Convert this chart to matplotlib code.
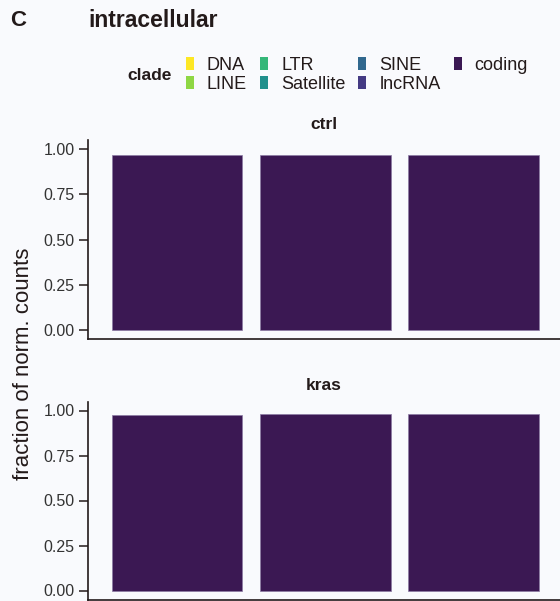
import matplotlib.pyplot as plt
from matplotlib.patches import Patch

plt.rcParams['font.family'] = ['Liberation Sans', 'DejaVu Sans']

# stacked fractions per sample, per condition
clades = ['DNA', 'LINE', 'LTR', 'Satellite', 'SINE', 'lncRNA', 'coding']
clade_colors = ['#fde725', '#8fd744', '#35b779', '#21908c', '#31688e', '#443a83', '#3b1853']
samples = ['s1', 's2', 's3']
conditions = ['ctrl', 'kras']
fractions = {
    'ctrl': {'DNA': [0, 0, 0], 'LINE': [0, 0, 0], 'LTR': [0, 0, 0], 'Satellite': [0, 0, 0],
             'SINE': [0, 0, 0], 'lncRNA': [0, 0, 0], 'coding': [0.965, 0.965, 0.965]},
    'kras': {'DNA': [0, 0, 0], 'LINE': [0, 0, 0], 'LTR': [0, 0, 0], 'Satellite': [0, 0, 0],
             'SINE': [0, 0, 0], 'lncRNA': [0, 0, 0], 'coding': [0.975, 0.978, 0.978]},
}
yticks = [0.0, 0.25, 0.5, 0.75, 1.0]

bg = '#f9fafd'
ink = '#231a1a'
W, H = 560, 601
fig = plt.figure(figsize=(W / 100, H / 100), dpi=100, facecolor=bg)

# panel boxes in pixels: (left, top, right, bottom)
panels = {'ctrl': (88, 140, 560, 339), 'kras': (88, 401.5, 560, 599.5)}

for cond in conditions:
    l, t, r, b = panels[cond]
    ax = fig.add_axes([l / W, 1 - b / H, (r - l) / W, (b - t) / H], facecolor=bg)
    x = list(range(1, len(samples) + 1))
    bottom = [0.0] * len(samples)
    for clade, col in zip(clades, clade_colors):
        vals = fractions[cond][clade]
        for i, v in enumerate(vals):
            if v > 0:
                ax.bar(x[i], v, bottom=bottom[i], width=0.88, color=col,
                       edgecolor='#8b7aa3', linewidth=0.5)
        bottom = [bo + v for bo, v in zip(bottom, vals)]
    ax.set_xlim(0.4, 0.4 + (r - l) / 148.3)
    ax.set_ylim(-0.05, 1.05)
    ax.set_xticks([])
    ax.set_yticks(yticks)
    ax.set_yticklabels(['%.2f' % v for v in yticks], fontsize=11.5, color='#333333')
    ax.tick_params(axis='y', length=6.5, width=1.1, color=ink, pad=3)
    for s in ['top', 'right']:
        ax.spines[s].set_visible(False)
    for s in ['left', 'bottom']:
        ax.spines[s].set_color(ink)
        ax.spines[s].set_linewidth(1.2)
    ax.set_title(cond, fontsize=12.5, fontweight='bold', color=ink, pad=8)

fig.text(10 / W, 1 - 20.5 / H, 'C', fontsize=16, fontweight='bold', color=ink, va='center')
fig.text(88 / W, 1 - 20.5 / H, 'intracellular', fontsize=16.5, fontweight='bold', color=ink, va='center')
fig.text(24 / W, 1 - 364 / H, 'fraction of norm. counts', fontsize=16, color=ink,
         rotation=90, va='center', ha='center')

fig.text(127 / W, 1 - 75 / H, 'clade', fontsize=12.5, fontweight='bold', color=ink, va='center')
handles = [Patch(facecolor=c, edgecolor='none') for c in clade_colors]
leg = fig.legend(handles, clades, ncol=4, loc='center left', bbox_to_anchor=(177 / W, 1 - 75 / H),
                 frameon=False, fontsize=13, handlelength=0.44, handleheight=0.72,
                 handletextpad=0.72, columnspacing=0.72, labelspacing=0.1, borderpad=0)
for txt in leg.get_texts():
    txt.set_color(ink)

fig.savefig('out.png', dpi=100, facecolor=bg)
